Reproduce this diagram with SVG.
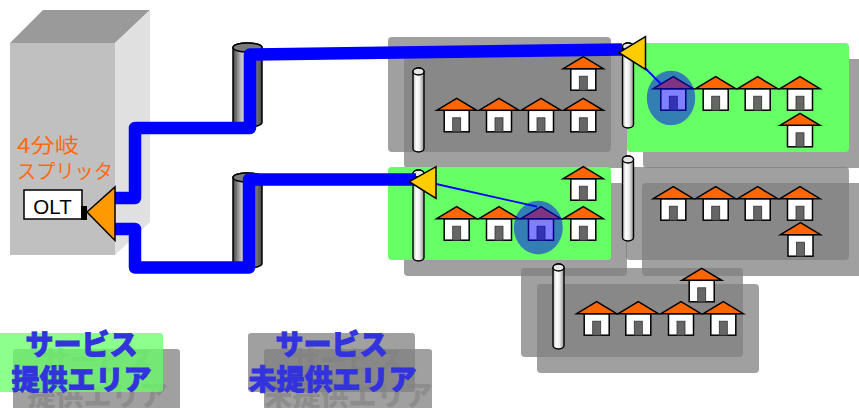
<svg xmlns="http://www.w3.org/2000/svg" width="859" height="408" viewBox="0 0 859 408">
<style>
  .shadow{fill:#808080;fill-opacity:.75}
  .gray{fill:#808080;fill-opacity:.75}
  .green{fill:#66ff66}
  .lgreen{fill:#66ff66;fill-opacity:.75}
  .cable{fill:none;stroke:#0000ff;stroke-width:12.5;stroke-linejoin:round}
  .drop{fill:none;stroke:#0000ff;stroke-width:1.8}
  .split{fill:#ffcc00;stroke:#000;stroke-width:1.5}
  .pole{fill:url(#poleGrad);stroke:#000;stroke-width:1.4}
  .poleTop{fill:#e6e6e6;stroke:#000;stroke-width:1.4}
  .pipe{fill:url(#pipeGrad);stroke:#000;stroke-width:1.5}
  .pipeTop{fill:#7a7a7a;stroke:#000;stroke-width:1.5}
  .hl{fill:#0000ff;fill-opacity:.5}
  .leg{font-family:"Noto Sans CJK JP","Noto Sans CJK SC",sans-serif;font-weight:900;font-size:28px;text-anchor:middle}
  .legText{fill:#3333dd;stroke:#3333dd;stroke-width:0.9}
  .legGhost{fill:#808080;fill-opacity:.6}
  .orange{font-family:"Noto Sans CJK JP","Noto Sans CJK SC",sans-serif;font-size:20px;fill:#ff6a10}
</style>
<defs>
  <linearGradient id="poleGrad" x1="0" y1="0" x2="1" y2="0">
    <stop offset="0" stop-color="#b0b0b0"/>
    <stop offset="0.3" stop-color="#ffffff"/>
    <stop offset="0.6" stop-color="#eeeeee"/>
    <stop offset="1" stop-color="#8c8c8c"/>
  </linearGradient>
  <linearGradient id="pipeGrad" x1="0" y1="0" x2="1" y2="0">
    <stop offset="0" stop-color="#404040"/>
    <stop offset="0.3" stop-color="#c8c8c8"/>
    <stop offset="0.6" stop-color="#a0a0a0"/>
    <stop offset="1" stop-color="#4a4a4a"/>
  </linearGradient>
  <!-- house icon, apex of roof at (0,0) -->
  <g id="house">
    <rect x="-12.5" y="12" width="25" height="21.5" fill="#fff" stroke="#000" stroke-width="1.5"/>
    <rect x="-4" y="19.5" width="8" height="14" fill="#666" stroke="#333" stroke-width="0.8"/>
    <polygon points="-20,12 0,0 20,12" fill="#ff6600" stroke="#000" stroke-width="1.5"/>
  </g>
</defs>

<!-- station building with OLT and splitter -->
<g id="building">
  <polygon points="10,43 43,10 150,10 115,43" fill="#9a9a9a"/>
  <polygon points="115,43 150,10 150,222 115,255" fill="#e0e0e0"/>
  <rect x="10" y="43" width="105" height="212" fill="#c0c0c0"/>
  <text class="orange" x="17" y="153" textLength="62" lengthAdjust="spacingAndGlyphs">4分岐</text>
  <text class="orange" x="17" y="178.5" textLength="96" lengthAdjust="spacingAndGlyphs">スプリッタ</text>
</g>
<g id="olt">
  <rect x="24" y="190" width="58" height="29" fill="#fff" stroke="#000" stroke-width="1.5"/>
  <text x="52.5" y="213.5" font-family="Liberation Sans, Arial, sans-serif" font-size="20.5" text-anchor="middle" fill="#000">OLT</text>
  <rect x="81" y="206" width="6" height="14" fill="#000"/>
</g>

<!-- area shadows -->
<g id="area-shadows">
  <rect class="shadow" x="404" y="53" width="223" height="115" rx="4"/>
  <rect class="shadow" x="643" y="59" width="222" height="109" rx="4"/>
  <rect class="shadow" x="404" y="183" width="223" height="93" rx="4"/>
  <rect class="shadow" x="642" y="183" width="223" height="93" rx="4"/>
  <rect class="shadow" x="537" y="284" width="222" height="89" rx="4"/>
</g>

<!-- service areas -->
<g id="area-1">
  <rect class="gray" x="388" y="37" width="223" height="115" rx="4"/>
</g>
<g id="area-2">
  <rect class="green" x="627" y="43" width="222" height="109" rx="4"/>
</g>
<g id="area-3">
  <rect class="green" x="388" y="167" width="223" height="93" rx="4"/>
</g>
<g id="area-4">
  <rect class="gray" x="626" y="167" width="223" height="93" rx="4"/>
</g>
<g id="area-5">
  <rect class="gray" x="521" y="268" width="222" height="89" rx="4"/>
</g>

<!-- utility poles -->
<g id="poles">
  <rect class="pole" x="413" y="68" width="11" height="84" rx="5.5" ry="3.5"/>
  <ellipse class="poleTop" cx="418.5" cy="71.5" rx="5.5" ry="3.5"/>
  <rect class="pole" x="622.5" y="43" width="11" height="85" rx="5.5" ry="3.5"/>
  <ellipse class="poleTop" cx="628" cy="46.5" rx="5.5" ry="3.5"/>
  <rect class="pole" x="413" y="170" width="11" height="91" rx="5.5" ry="3.5"/>
  <ellipse class="poleTop" cx="418.5" cy="173.5" rx="5.5" ry="3.5"/>
  <rect class="pole" x="622.5" y="156" width="11" height="85" rx="5.5" ry="3.5"/>
  <ellipse class="poleTop" cx="628" cy="159.5" rx="5.5" ry="3.5"/>
  <rect class="pole" x="553" y="264" width="11" height="85" rx="5.5" ry="3.5"/>
  <ellipse class="poleTop" cx="558.5" cy="267.5" rx="5.5" ry="3.5"/>
</g>

<!-- houses -->
<g id="houses-1">
  <use href="#house" x="583.3" y="56.7"/>
  <use href="#house" x="456.7" y="98.3"/>
  <use href="#house" x="499" y="98.3"/>
  <use href="#house" x="541" y="98.3"/>
  <use href="#house" x="583.3" y="98.3"/>
</g>
<g id="houses-2">
  <use href="#house" x="673.3" y="76.7"/>
  <use href="#house" x="715.7" y="76.7"/>
  <use href="#house" x="757.7" y="76.7"/>
  <use href="#house" x="800" y="76.7"/>
  <use href="#house" x="800" y="113.3"/>
</g>
<g id="houses-3">
  <use href="#house" x="583.3" y="166.7"/>
  <use href="#house" x="456.7" y="206.7"/>
  <use href="#house" x="499" y="206.7"/>
  <use href="#house" x="541" y="206.7"/>
  <use href="#house" x="583.3" y="206.7"/>
</g>
<g id="houses-4">
  <use href="#house" x="673.3" y="186.7"/>
  <use href="#house" x="715.7" y="186.7"/>
  <use href="#house" x="757.7" y="186.7"/>
  <use href="#house" x="800" y="186.7"/>
  <use href="#house" x="800.5" y="222.7"/>
</g>
<g id="houses-5">
  <use href="#house" x="701.7" y="268.3"/>
  <use href="#house" x="596.7" y="301.7"/>
  <use href="#house" x="638.3" y="301.7"/>
  <use href="#house" x="681" y="301.7"/>
  <use href="#house" x="723.3" y="301.7"/>
</g>

<!-- subscribers in service -->
<g id="subscriber-1"><ellipse class="hl" cx="671" cy="98" rx="24.2" ry="27.2"/></g>
<g id="subscriber-2"><ellipse class="hl" cx="538.3" cy="227.6" rx="24.5" ry="26.8"/></g>

<!-- drop cables -->
<g id="drops">
  <line class="drop" x1="636" y1="59" x2="661" y2="84"/>
  <line class="drop" x1="425" y1="181.5" x2="537" y2="206.7"/>
</g>

<!-- cable poles -->
<g id="pipe-1">
  <rect class="pipe" x="233" y="43" width="29" height="84" rx="14.5" ry="4.5"/>
  <ellipse class="pipeTop" cx="247.5" cy="47.5" rx="14.5" ry="4.5"/>
</g>
<g id="pipe-2">
  <rect class="pipe" x="233" y="173" width="29" height="95" rx="14.5" ry="4.5"/>
  <ellipse class="pipeTop" cx="247.5" cy="177.5" rx="14.5" ry="4.5"/>
</g>

<!-- feeder cables -->
<g id="connectors">
  <path class="cable" d="M113,198 H135 V128 H250 V54.5 L622,49.5"/>
  <path class="cable" d="M113,229 H135 V267.5 H249 V179.5 H416"/>
</g>

<!-- splitters -->
<g id="splitter-olt"><polygon points="87,212 115,187 115,240.5" fill="#ff9900" stroke="#000" stroke-width="1.5"/></g>
<g id="splitter-1"><polygon class="split" points="619,52.7 645.5,36.7 645.5,69.3"/></g>
<g id="splitter-2"><polygon class="split" points="409.3,181.7 436,166.7 436,198.3"/></g>

<!-- legend -->
<g id="legend-served">
  <rect class="shadow" x="13" y="349" width="167" height="62" rx="3"/>
  <text class="leg legGhost" x="97.5" y="371">サービス</text>
  <text class="leg legGhost" x="97.5" y="406">提供エリア</text>
  <rect class="lgreen" x="-5" y="333" width="168" height="59" rx="3"/>
  <text class="leg legText" x="81.5" y="355">サービス</text>
  <text class="leg legText" x="81.5" y="390">提供エリア</text>
</g>
<g id="legend-unserved">
  <rect class="shadow" x="264" y="349" width="168" height="62" rx="3"/>
  <text class="leg legGhost" x="347.5" y="371">サービス</text>
  <text class="leg legGhost" x="348.5" y="406">未提供エリア</text>
  <rect class="gray" x="248" y="333" width="167" height="59" rx="3"/>
  <text class="leg legText" x="331.5" y="355">サービス</text>
  <text class="leg legText" x="332.5" y="390">未提供エリア</text>
</g>
</svg>
